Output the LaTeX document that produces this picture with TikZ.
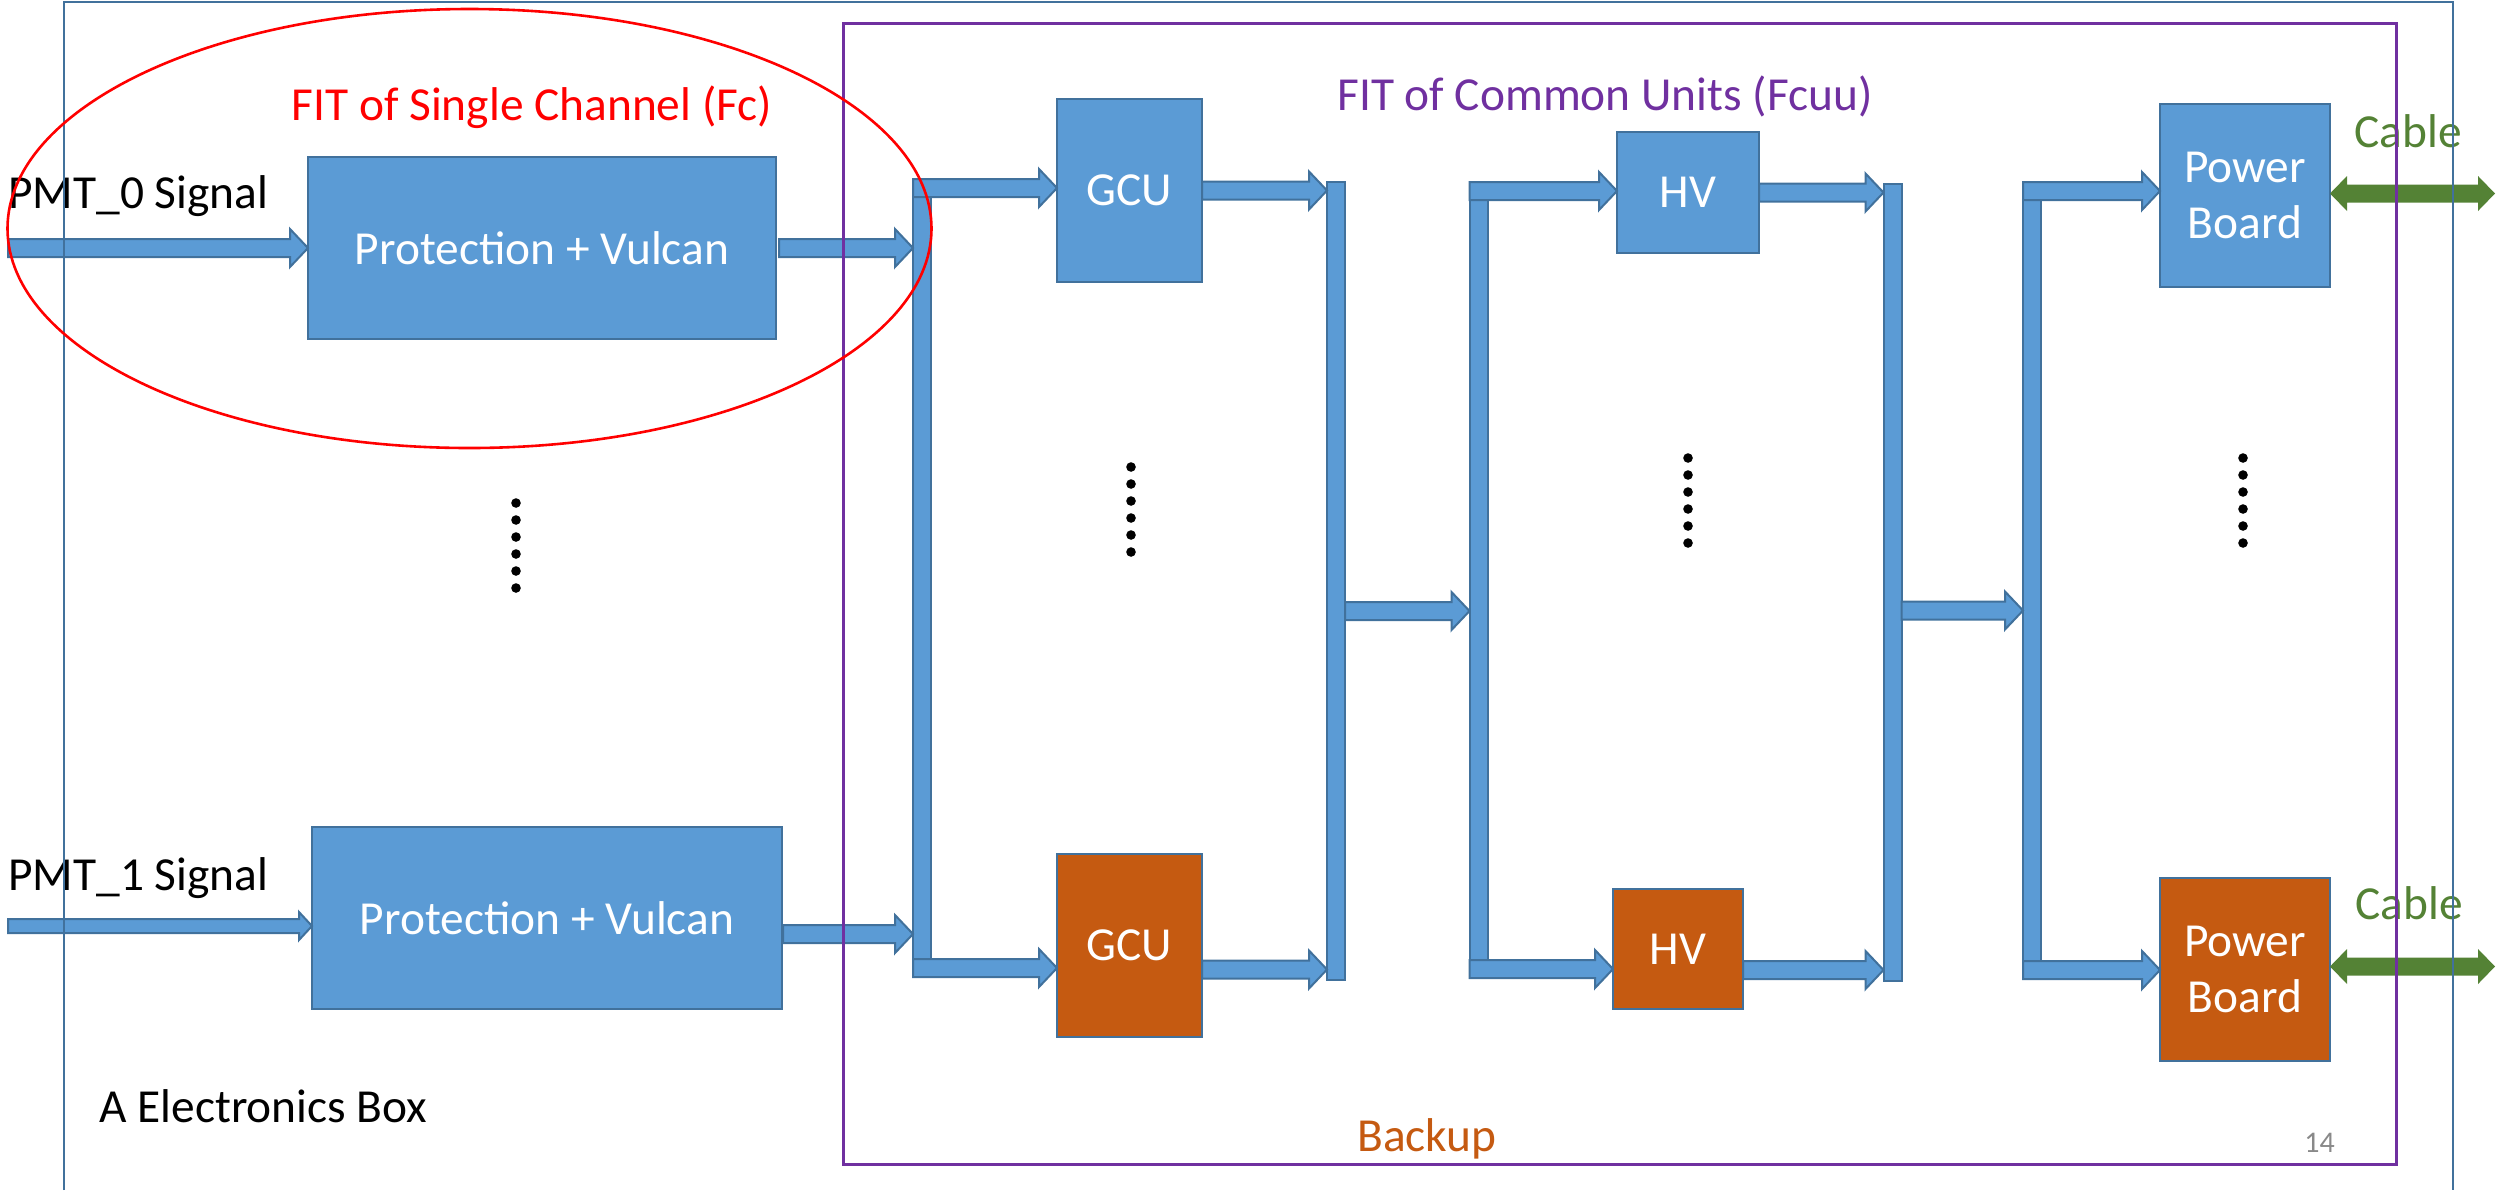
\documentclass[tikz,border=0pt]{standalone}
\usepackage{fontspec}
\setmainfont{Carlito}
\usetikzlibrary{calc}

\definecolor{azzurro}{HTML}{5B9BD5}
\definecolor{bordo}{HTML}{41719C}
\definecolor{arancio}{HTML}{C55A11}
\definecolor{verde}{HTML}{548235}
\definecolor{viola}{HTML}{7030A0}
\definecolor{rosso}{HTML}{FF0000}
\definecolor{grigio}{HTML}{898989}

% Dimensioni delle frecce a blocco: mezzo gambo, mezza testa, lunghezza punta
\def\gambo{4.5pt}
\def\testa{9.5pt}
\def\punta{9pt}

% Freccia a blocco orizzontale: parte da #2 e arriva con la punta in x di #3
\newcommand{\frecciablocco}[3][]{%
  \path[freccia,#1] let \p1=#2, \p2=#3 in
    (\x1,\y1+\gambo) -- (\x2-\punta,\y1+\gambo) -- (\x2-\punta,\y1+\testa) --
    (\x2,\y1) -- (\x2-\punta,\y1-\testa) -- (\x2-\punta,\y1-\gambo) --
    (\x1,\y1-\gambo) -- cycle;}

% Freccia a due punte (cavo)
\newcommand{\frecciadoppia}[3][]{%
  \path[cavo,#1] let \p1=#2, \p2=#3 in
    (\x1,\y1) -- (\x1+\punta,\y1+\testa) -- (\x1+\punta,\y1+\gambo) --
    (\x2-\punta,\y1+\gambo) -- (\x2-\punta,\y1+\testa) -- (\x2,\y1) --
    (\x2-\punta,\y1-\testa) -- (\x2-\punta,\y1-\gambo) --
    (\x1+\punta,\y1-\gambo) -- (\x1+\punta,\y1-\testa) -- cycle;}

\begin{document}
\begin{tikzpicture}[
  x=0.5pt, y=-0.5pt,
  testo/.style={font=\fontsize{23.7}{28.4}\selectfont},
  blocco/.style={testo, draw=bordo, fill=azzurro, text=white,
                 line width=1.2pt, inner sep=0pt, outer sep=0pt, align=center},
  riserva/.style={blocco, fill=arancio},
  barra/.style={draw=bordo, fill=azzurro, line width=1pt,
                minimum width=9pt, inner sep=0pt, outer sep=0pt},
  freccia/.style={draw=bordo, fill=azzurro, line width=1pt},
  cavo/.style={fill=verde},
  etichetta/.style={testo, inner sep=0pt, anchor=base west},
  cornice/.style={draw=bordo, line width=1pt}
]
\useasboundingbox (0,0) rectangle (2499,1190);

%--------------------------------------------------------------
% Barre di raccolta verticali
%--------------------------------------------------------------
\node[barra, minimum height=399pt]   (bus1) at (922,578)    {};
\node[barra, minimum height=399pt]   (bus2) at (1336,581)   {};
\node[barra, minimum height=398pt]   (bus3) at (1478.5,580) {};
\node[barra, minimum height=398.5pt] (bus4) at (1892.5,582.5) {};
\node[barra, minimum height=398.5pt] (bus5) at (2032,580.5) {};

%--------------------------------------------------------------
% Blocchi: canale singolo, GCU, HV, alimentazione
%--------------------------------------------------------------
\node[blocco, minimum width=234pt, minimum height=91pt] (prot0) at (542,248)
  {Protection + Vulcan};
\node[blocco, minimum width=235pt, minimum height=91pt] (prot1) at (547,918)
  {Protection + Vulcan};

\node[blocco,  minimum width=72.5pt, minimum height=91.5pt] (gcu0) at (1129.5,190.5) {GCU};
\node[riserva, minimum width=72.5pt, minimum height=91.5pt] (gcu1) at (1129.5,945.5) {GCU};

\node[blocco,  minimum width=71pt, minimum height=60.5pt] (hv0) at (1688,192.5) {HV};
\node[riserva, minimum width=65pt, minimum height=60pt]   (hv1) at (1678,949)   {HV};

\node[blocco,  minimum width=85pt, minimum height=91.5pt] (pb0) at (2245,195.5) {Power\\ Board};
\node[riserva, minimum width=85pt, minimum height=91.5pt] (pb1) at (2245,969.5) {Power\\ Board};

%--------------------------------------------------------------
% Frecce di collegamento
%--------------------------------------------------------------
\coordinate (in0) at (8,248);
\coordinate (in1) at (8,926);
\coordinate (fine0) at (2495,193);
\coordinate (fine1) at (2495,966);

\frecciablocco{(in0)}{(prot0.west)}
{\def\gambo{3.5pt}\def\testa{7pt}\def\punta{6.5pt}
 \frecciablocco{(in1)}{(prot1.west)}}

\frecciablocco{([xshift=1.5pt]prot0.east)}{(bus1.west)}
\frecciablocco{([xshift=0.5pt,yshift=-8pt]prot1.east)}{(bus1.west)}

\frecciablocco{([yshift=-4.5pt]bus1.north west)}{(gcu0.west)}
\frecciablocco{([yshift=4.5pt]bus1.south west)}{(gcu1.west)}
\frecciablocco{(gcu0.east)}{(bus2.west)}
\frecciablocco{([yshift=-12pt]gcu1.east)}{(bus2.west)}

\frecciablocco{([yshift=-15pt]bus2.east)}{(bus3.west)}

\frecciablocco{([yshift=-4.5pt]bus3.north west)}{(hv0.west)}
\frecciablocco{([yshift=4.5pt]bus3.south west)}{(hv1.west)}
\frecciablocco{(hv0.east)}{(bus4.west)}
\frecciablocco{([yshift=-10.5pt]hv1.east)}{(bus4.west)}

\frecciablocco{([yshift=-14pt]bus4.east)}{(bus5.west)}

\frecciablocco{([yshift=-4.5pt]bus5.north west)}{(pb0.west)}
\frecciablocco{([yshift=4.5pt]bus5.south west)}{(pb1.west)}

{\def\testa{8.75pt}\def\punta{8.5pt}
 \frecciadoppia{([yshift=1pt]pb0.east)}{(fine0)}
 \frecciadoppia{([yshift=1.5pt]pb1.east)}{(fine1)}}

%--------------------------------------------------------------
% Scritte
%--------------------------------------------------------------
\node[etichetta] (pmt0) at (8,208) {PMT\_0 Signal};
\node[etichetta] (pmt1) at (8,890) {PMT\_1 Signal};
\node[etichetta, text=rosso, anchor=base] (fitfc)   at (532,120)  {FIT of Single Channel (Fc)};
\node[etichetta, text=viola, anchor=base] (fitfcuu) at (1605,110) {FIT of Common Units (Fcuu)};
\node[etichetta, text=verde] (cable0) at (2354,147) {Cable};
\node[etichetta, text=verde] (cable1) at (2355,919) {Cable};
\node[etichetta, text=arancio] (backup) at (1357,1151) {Backup};
\node[etichetta] (ebox) at (99,1122) {A Electronics Box};
\node[etichetta, text=grigio, font=\fontsize{15}{18}\selectfont] (pagina) at (2304,1152) {14};

% Puntini di sospensione tra i canali
\foreach \xp/\yp in {516/503, 1131/467, 1688/458, 2243/458}
  \foreach \k in {0,...,5}
    \fill (\xp,{\yp+17*\k}) circle (2.4pt);

%--------------------------------------------------------------
% Cornici e contorno del canale singolo
%--------------------------------------------------------------
\draw[cornice] (64,1190) -- (64,2) -- (2453,2) -- (2453,1190);
\draw[viola, line width=1.5pt] (843,23) rectangle (2396,1164);
\draw[rosso, line width=1.3pt] (469.5,228.5) ellipse [x radius=231pt, y radius=109.75pt];

\end{tikzpicture}
\end{document}
